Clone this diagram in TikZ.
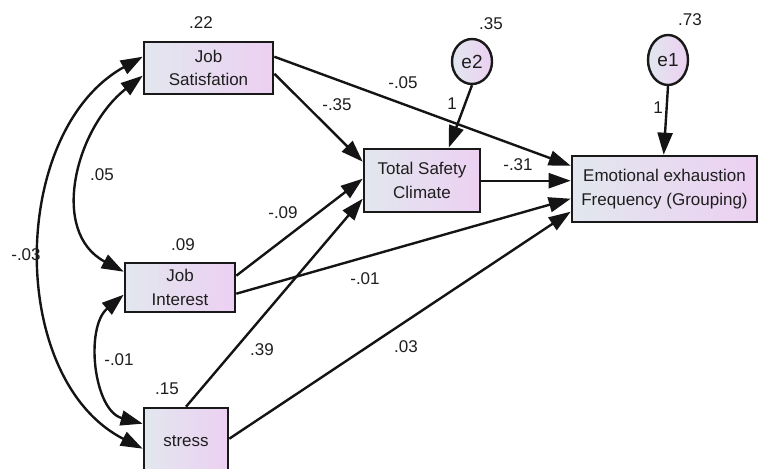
\documentclass[tikz,border=0pt]{standalone}
\usepackage{fontspec}
\setmainfont{Liberation Sans}
\usetikzlibrary{arrows.meta,calc,shapes.geometric}
\definecolor{lft}{RGB}{226,231,238}
\definecolor{rgt}{RGB}{236,208,242}
\definecolor{txt}{RGB}{30,30,30}
\begin{document}
\begin{tikzpicture}[x=1pt,y=1pt,
  font=\fontsize{17}{23.5}\selectfont,
  var/.style={draw=black!90, line width=2.6pt, left color=lft, right color=rgt,
    align=center, inner sep=0pt, text=txt},
  err/.style={ellipse, draw=black!90, line width=2.4pt, left color=lft, right color=rgt,
    inner sep=0pt, text=txt, font=\fontsize{19}{21}\selectfont},
  pth/.style={-{Triangle[length=22pt,width=15pt]}, line width=2.4pt, black!92},
  cov/.style={{Triangle[length=22pt,width=15pt]}-{Triangle[length=22pt,width=15pt]}, line width=2.4pt, black!92},
  lbl/.style={text=txt, inner sep=0pt}]
\useasboundingbox (0,0) rectangle (767,-468);

% variables
\node[var, minimum width=129pt, minimum height=52pt] (JS) at (208.5,-68) {Job\\Satisfation};
\node[var, minimum width=116pt, minimum height=63pt] (TSC) at (422,-180.5) {Total Safety\\Climate};
\node[var, minimum width=185pt, minimum height=66pt] (Emo) at (664.5,-189) {Emotional exhaustion\\Frequency (Grouping)};
\node[var, minimum width=110pt, minimum height=49pt] (JI) at (180,-287.5) {Job\\Interest};
\node[var, minimum width=84pt, minimum height=66pt] (ST) at (186,-441) {stress};
\node[err, minimum width=40pt, minimum height=45pt] (e2) at (472,-61.5) {e2};
\node[err, minimum width=40pt, minimum height=50pt] (e1) at (668,-60) {e1};

% anchor points
\coordinate (jsA) at ($(JS.north east)+(0,-16)$);
\coordinate (jsB) at ($(JS.north east)+(0,-33)$);
\coordinate (tscIn1) at ($(TSC.north west)+(0,-14)$);
\coordinate (tscIn2) at ($(TSC.north west)+(0,-31)$);
\coordinate (tscIn3) at ($(TSC.north west)+(0,-51)$);
\coordinate (tscOut) at ($(TSC.north east)+(0,-33)$);
\coordinate (tscTop) at ($(TSC.north west)+(86,0)$);
\coordinate (emo1) at ($(Emo.north west)+(0,-11)$);
\coordinate (emo2) at ($(Emo.north west)+(0,-26)$);
\coordinate (emo3) at ($(Emo.north west)+(0,-44)$);
\coordinate (emo4) at ($(Emo.north west)+(0,-57)$);
\coordinate (emoTop) at ($(Emo.north west)+(93,0)$);
\coordinate (jiA) at ($(JI.north east)+(0,-14)$);
\coordinate (jiB) at ($(JI.north east)+(0,-32)$);
\coordinate (stA) at ($(ST.north east)+(0,-32)$);
\coordinate (jsL1) at ($(JS.north west)+(0,-16)$);
\coordinate (jsL2) at ($(JS.north west)+(0,-35)$);
\coordinate (jiL1) at ($(JI.north west)+(0,-10)$);
\coordinate (jiL2) at ($(JI.north west)+(0,-33)$);
\coordinate (stL1) at ($(ST.north west)+(0,-17)$);
\coordinate (stL2) at ($(ST.north west)+(0,-42)$);

% directed paths
\draw[pth] (jsA) -- (emo1);
\draw[pth] (jsB) -- (tscIn1);
\draw[pth] (tscOut) -- (emo2);
\draw[pth] (jiA) -- (tscIn2);
\draw[pth] (jiB) -- (emo3);
\draw[pth] (ST.north) -- (tscIn3);
\draw[pth] (stA) -- (emo4);
\draw[pth] (e2.south) -- (tscTop);
\draw[pth] (e1.south) -- (emoTop);

% covariances
\draw[cov] (jsL2) to[out=218, in=152, looseness=1.1] (jiL1);
\draw[cov] (jiL2) to[out=220, in=165] (stL1);
\draw[cov] (jsL1) to[out=209, in=153] (stL2);

% labels
\node[lbl] (l1) at (201,-23) {.22};
\node[lbl] (l2) at (102,-175) {.05};
\node[lbl] (l3) at (26,-255) {-.03};
\node[lbl] (l4) at (183,-245) {.09};
\node[lbl] (l5) at (119,-360) {-.01};
\node[lbl] (l6) at (167,-389) {.15};
\node[lbl] (l7) at (262,-350) {.39};
\node[lbl] (l8) at (365,-279) {-.01};
\node[lbl] (l9) at (406,-347) {.03};
\node[lbl] (l10) at (283,-213) {-.09};
\node[lbl] (l11) at (337,-105) {-.35};
\node[lbl] (l12) at (403,-83) {-.05};
\node[lbl] (l13) at (452,-104) {1};
\node[lbl] (l14) at (658,-108) {1};
\node[lbl] (l15) at (491,-24) {.35};
\node[lbl] (l16) at (690,-20) {.73};
\node[lbl] (l17) at (518,-165) {-.31};
\end{tikzpicture}
\end{document}
